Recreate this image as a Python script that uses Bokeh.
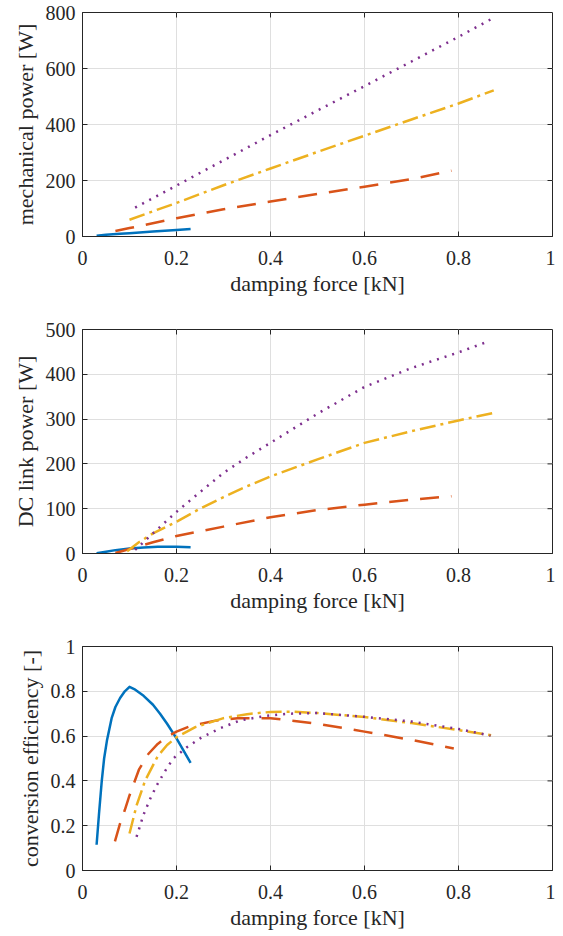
from bokeh.plotting import figure
from bokeh.models import Range1d, FixedTicker
from bokeh.layouts import column
from bokeh.embed import file_html
from bokeh.resources import INLINE

# ---------------- data ----------------
x_ticks = [0, 0.2, 0.4, 0.6, 0.8, 1]
x_tick_labels = ["0", "0.2", "0.4", "0.6", "0.8", "1"]
x_title = "damping force [kN]"

mech_ticks = [0, 200, 400, 600, 800]
mech_tick_labels = ["0", "200", "400", "600", "800"]
dc_ticks = [0, 100, 200, 300, 400, 500]
dc_tick_labels = ["0", "100", "200", "300", "400", "500"]
eff_ticks = [0, 0.2, 0.4, 0.6, 0.8, 1]
eff_tick_labels = ["0", "0.2", "0.4", "0.6", "0.8", "1"]

# mechanical power [W]
mech_blue_x = [0.03, 0.05, 0.08, 0.10, 0.15, 0.20, 0.23]
mech_blue_y = [3, 6, 9.5, 12, 17.5, 23.5, 27]
mech_orange_x = [0.07, 0.10, 0.20, 0.30, 0.40, 0.50, 0.60, 0.70, 0.785]
mech_orange_y = [20, 30, 65, 97, 125, 152, 178, 205, 235]
mech_yellow_x = [0.10, 0.20, 0.30, 0.40, 0.50, 0.60, 0.70, 0.80, 0.875]
mech_yellow_y = [60, 120, 183, 243, 302, 360, 418, 475, 522]
mech_purple_x = [0.112, 0.20, 0.30, 0.40, 0.50, 0.60, 0.70, 0.80, 0.868]
mech_purple_y = [103, 182, 272, 362, 450, 537, 625, 713, 775]

# DC link power [W]
dc_blue_x = [0.03, 0.05, 0.07, 0.10, 0.13, 0.16, 0.20, 0.23]
dc_blue_y = [0.5, 4, 7.5, 11, 13.5, 14.8, 14.8, 14]
dc_orange_x = [0.07, 0.10, 0.15, 0.20, 0.30, 0.40, 0.50, 0.60, 0.70, 0.785]
dc_orange_y = [1, 10, 25, 39, 60, 81, 97, 109, 120, 128]
dc_yellow_x = [0.095, 0.12, 0.15, 0.20, 0.25, 0.30, 0.35, 0.40, 0.50, 0.60, 0.70, 0.80, 0.875]
dc_yellow_y = [5, 25, 45, 71, 100, 126, 150, 172, 210, 247, 273, 297, 314]
dc_purple_x = [0.112, 0.15, 0.20, 0.25, 0.30, 0.35, 0.40, 0.50, 0.60, 0.70, 0.80, 0.86]
dc_purple_y = [8, 45, 93, 137, 180, 215, 247, 312, 372, 414, 449, 472]

# conversion efficiency [-]
eff_blue_x = [0.03, 0.035, 0.041, 0.046, 0.052, 0.062, 0.07, 0.08, 0.09, 0.10, 0.11,
              0.13, 0.15, 0.165, 0.18, 0.20, 0.215, 0.23]
eff_blue_y = [0.115, 0.25, 0.40, 0.50, 0.58, 0.68, 0.73, 0.77, 0.80, 0.82, 0.81,
              0.78, 0.74, 0.70, 0.655, 0.59, 0.535, 0.48]
eff_orange_x = [0.069, 0.08, 0.09, 0.10, 0.12, 0.14, 0.16, 0.18, 0.20, 0.23, 0.28,
                0.33, 0.40, 0.50, 0.60, 0.70, 0.79]
eff_orange_y = [0.13, 0.21, 0.27, 0.335, 0.45, 0.52, 0.565, 0.597, 0.62, 0.645, 0.668,
                0.68, 0.68, 0.655, 0.62, 0.583, 0.545]
eff_yellow_x = [0.10, 0.115, 0.133, 0.16, 0.18, 0.20, 0.24, 0.30, 0.35, 0.40, 0.45,
                0.50, 0.60, 0.70, 0.80, 0.875]
eff_yellow_y = [0.165, 0.29, 0.40, 0.51, 0.56, 0.595, 0.64, 0.68, 0.698, 0.708, 0.709,
                0.703, 0.685, 0.658, 0.627, 0.602]
eff_purple_x = [0.115, 0.13, 0.144, 0.158, 0.176, 0.193, 0.222, 0.254, 0.293, 0.335,
                0.39, 0.44, 0.50, 0.60, 0.70, 0.80, 0.868]
eff_purple_y = [0.15, 0.25, 0.32, 0.38, 0.445, 0.50, 0.55, 0.595, 0.635, 0.67,
                0.69, 0.70, 0.703, 0.686, 0.665, 0.632, 0.602]

# ---------------- styles ----------------
COLORS = ["#0072BD", "#D95319", "#EDB120", "#7E2F8E"]
DASHES = ["solid", "19 12", "16 5 3 5", "2 6"]
FONT = "Liberation Serif"
TXT = "#262626"
AX = "#262626"
FRAME_W = 470
FRAME_H = 224
TICK = 5


def style_axis(ax, ticks, labels):
    ax.ticker = FixedTicker(ticks=ticks)
    ax.major_label_overrides = {t: l for t, l in zip(ticks, labels)}
    ax.axis_line_color = AX
    ax.axis_line_width = 1
    ax.major_tick_line_color = AX
    ax.major_tick_in = TICK
    ax.major_tick_out = 0
    ax.minor_tick_line_color = None
    ax.major_label_text_font = FONT
    ax.major_label_text_color = TXT
    ax.major_label_text_font_size = "20px"
    ax.axis_label_text_font = FONT
    ax.axis_label_text_font_size = "22px"
    ax.axis_label_text_font_style = "normal"
    ax.axis_label_text_color = TXT


def make_fig(height, top, bottom, y_end, y_ticks, y_labels, y_title, series):
    p = figure(width=555, height=height, output_backend="svg", toolbar_location=None,
               x_range=Range1d(0, 1), y_range=Range1d(0, y_end),
               min_border_left=82, min_border_right=3, min_border_top=top,
               min_border_bottom=bottom)
    p.outline_line_color = AX
    p.outline_line_width = 1
    p.background_fill_color = "white"
    p.border_fill_color = "white"
    style_axis(p.xaxis[0], x_ticks, x_tick_labels)
    style_axis(p.yaxis[0], y_ticks, y_labels)
    p.xaxis[0].axis_label = x_title
    p.yaxis[0].axis_label = y_title
    p.xaxis[0].major_label_standoff = 14
    p.xaxis[0].axis_label_standoff = 3
    p.yaxis[0].major_label_standoff = 7
    p.yaxis[0].axis_label_standoff = 5
    p.xgrid.ticker = FixedTicker(ticks=x_ticks)
    p.ygrid.ticker = FixedTicker(ticks=y_ticks)
    for g in (p.xgrid, p.ygrid):
        g.grid_line_color = "#dfdfdf"
        g.grid_line_width = 1
    for (xs, ys), c, d in zip(series, COLORS, DASHES):
        p.line(xs, ys, line_color=c, line_width=2.5, line_dash=d, line_cap="butt",
               line_join="round")
    # mirrored inner ticks on the top and right edges of the box (MATLAB style)
    inner_x = x_ticks[1:-1]
    inner_y = y_ticks[1:-1]
    ty = y_end * TICK / FRAME_H
    tx = 1.0 * TICK / FRAME_W
    p.segment(x0=inner_x, y0=[y_end] * len(inner_x), x1=inner_x,
              y1=[y_end - ty] * len(inner_x), line_color=AX, line_width=1)
    p.segment(x0=[1.0] * len(inner_y), y0=inner_y, x1=[1.0 - tx] * len(inner_y),
              y1=inner_y, line_color=AX, line_width=1)
    return p


p1 = make_fig(315, 12, 79, 800, mech_ticks, mech_tick_labels, "mechanical power [W]",
              [(mech_blue_x, mech_blue_y), (mech_orange_x, mech_orange_y),
               (mech_yellow_x, mech_yellow_y), (mech_purple_x, mech_purple_y)])
p2 = make_fig(317, 14, 79, 500, dc_ticks, dc_tick_labels, "DC link power [W]",
              [(dc_blue_x, dc_blue_y), (dc_orange_x, dc_orange_y),
               (dc_yellow_x, dc_yellow_y), (dc_purple_x, dc_purple_y)])
p3 = make_fig(300, 14, 62, 1, eff_ticks, eff_tick_labels, "conversion efficiency [-]",
              [(eff_blue_x, eff_blue_y), (eff_orange_x, eff_orange_y),
               (eff_yellow_x, eff_yellow_y), (eff_purple_x, eff_purple_y)])

layout = column(p1, p2, p3, spacing=0)
open("out.html", "w").write(file_html(layout, INLINE))
